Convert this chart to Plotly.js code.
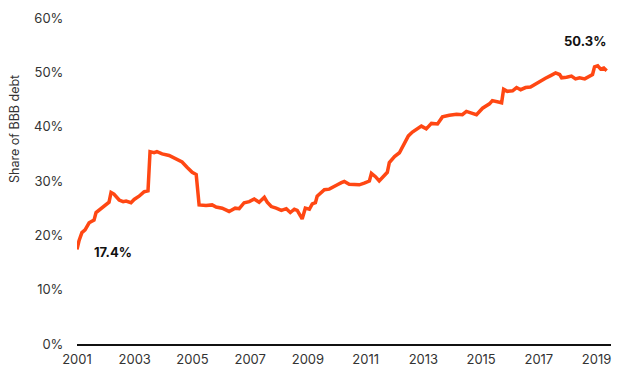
<!DOCTYPE html>
<html>
<head>
<meta charset="utf-8">
<script src="https://cdn.plot.ly/plotly-3.0.1.min.js"></script>
<style>html,body{margin:0;padding:0;background:#fff;}#chart{width:620px;height:375px;}</style>
</head>
<body>
<div id="chart"></div>
<script>
var years = [2001.0,2001.07,2001.17,2001.28,2001.42,2001.59,2001.66,2001.83,2002.01,2002.11,2002.18,2002.28,2002.46,2002.60,2002.70,2002.87,2002.98,2003.15,2003.32,2003.46,2003.53,2003.67,2003.77,2003.95,2004.19,2004.40,2004.64,2004.82,2004.99,2005.13,2005.16,2005.23,2005.47,2005.68,2005.82,2006.03,2006.27,2006.48,2006.62,2006.79,2006.97,2007.14,2007.31,2007.49,2007.59,2007.73,2007.90,2008.08,2008.25,2008.39,2008.53,2008.63,2008.74,2008.80,2008.91,2009.05,2009.15,2009.26,2009.32,2009.46,2009.57,2009.74,2009.91,2010.02,2010.16,2010.26,2010.43,2010.61,2010.78,2010.95,2011.13,2011.20,2011.34,2011.47,2011.61,2011.75,2011.82,2012.00,2012.17,2012.34,2012.48,2012.62,2012.79,2012.93,2013.10,2013.28,2013.49,2013.66,2013.90,2014.15,2014.35,2014.49,2014.67,2014.84,2015.05,2015.29,2015.39,2015.53,2015.71,2015.78,2015.91,2016.09,2016.23,2016.37,2016.54,2016.71,2016.89,2017.06,2017.23,2017.41,2017.58,2017.72,2017.79,2017.96,2018.13,2018.27,2018.41,2018.59,2018.76,2018.86,2018.93,2019.04,2019.14,2019.25,2019.35];
var share = [17.4,19.0,20.5,21.0,22.3,22.8,24.2,24.9,25.6,26.1,27.9,27.6,26.5,26.2,26.3,26.0,26.6,27.2,28.0,28.2,35.4,35.2,35.4,35.0,34.7,34.2,33.5,32.5,31.6,31.2,29.3,25.6,25.5,25.6,25.2,25.0,24.4,25.0,24.9,26.0,26.2,26.7,26.1,27.0,26.1,25.3,25.0,24.6,24.9,24.2,24.8,24.6,23.6,23.0,25.0,24.8,25.8,26.0,27.2,28.0,28.4,28.5,28.9,29.3,29.7,29.9,29.4,29.4,29.3,29.6,30.0,31.4,30.8,30.0,30.8,31.6,33.4,34.5,35.2,37.0,38.3,39.0,39.6,40.1,39.6,40.6,40.5,41.8,42.1,42.3,42.2,42.8,42.5,42.2,43.4,44.2,44.8,44.6,44.4,46.9,46.5,46.6,47.2,46.8,47.2,47.3,47.9,48.4,48.9,49.4,49.9,49.6,49.0,49.1,49.3,48.8,49.0,48.8,49.3,49.6,51.0,51.2,50.6,50.8,50.3];
var xTicks = [2001,2003,2005,2007,2009,2011,2013,2015,2017,2019];
var yTicks = [0,10,20,30,40,50,60];
var yTickText = ["0%","10%","20%","30%","40%","50%","60%"];
var yTitle = "Share of BBB debt";
var labels = [
  {x: 2002.25, y: 16.9, text: "17.4%"},
  {x: 2018.6, y: 55.8, text: "50.3%"}
];

var font = "Inter, 'Open Sans', sans-serif";
var trace = {
  x: years, y: share, type: 'scatter', mode: 'lines',
  line: {color: '#ff4713', width: 3.5}, hoverinfo: 'skip'
};
var anns = labels.map(function(l){
  return {x: l.x, y: l.y, xref: 'x', yref: 'y', text: '<b>' + l.text + '</b>', showarrow: false,
    font: {family: font, size: 13, color: '#111'}};
});
anns.push({xref: 'paper', yref: 'paper', x: -0.116, y: 0.66, xanchor: 'center', yanchor: 'middle',
  text: yTitle, textangle: -90, showarrow: false, font: {family: font, size: 12.5, color: '#333'}});
var layout = {
  width: 620, height: 375,
  margin: {l: 77, r: 9, t: 18, b: 31},
  paper_bgcolor: '#fff', plot_bgcolor: '#fff',
  showlegend: false,
  font: {family: font, color: '#333', size: 13},
  xaxis: {
    range: [2001, 2019.5], tickvals: xTicks, ticktext: xTicks.map(String),
    showgrid: false, zeroline: false, showline: true, linecolor: '#111', linewidth: 2,
    ticks: 'outside', ticklen: 2, tickcolor: 'rgba(0,0,0,0)',
    tickfont: {family: font, size: 13, color: '#333'}
  },
  yaxis: {
    range: [0, 60], tickvals: yTicks, ticktext: yTickText,
    showgrid: false, zeroline: false, showline: false,
    ticks: 'outside', ticklen: 10, tickcolor: 'rgba(0,0,0,0)',
    tickfont: {family: font, size: 13, color: '#333'}
  },
  annotations: anns
};
Plotly.newPlot('chart', [trace], layout, {displayModeBar: false, staticPlot: true});
</script>
</body>
</html>
